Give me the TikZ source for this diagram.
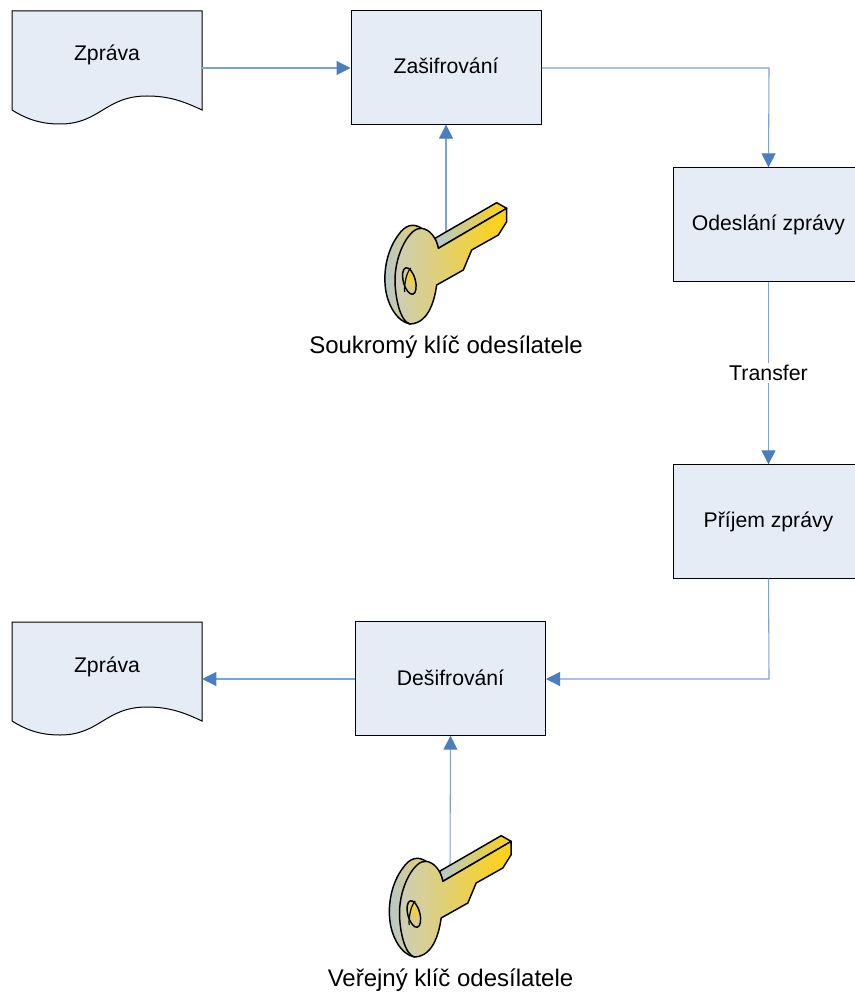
\documentclass[tikz,border=0pt]{standalone}
\usepackage{fontspec}
\setmainfont{Liberation Sans}
\usetikzlibrary{arrows.meta}
\definecolor{boxfill}{HTML}{E6ECF6}
\definecolor{lineblue}{HTML}{7FA2D6}
\definecolor{tipblue}{HTML}{4A7EBF}
\definecolor{keyL}{HTML}{CCCEB8}
\definecolor{keyR}{HTML}{FFD20F}
\definecolor{rimL}{HTML}{B4C8D0}
\definecolor{rimR}{HTML}{ECCF58}
\definecolor{holeT}{HTML}{D8CC88}
\definecolor{holeY}{HTML}{F6D030}
\tikzset{
  proc/.style={draw=black,line width=0.75pt,fill=boxfill,minimum width=142.5pt,minimum height=85pt,inner sep=0pt,font=\fontsize{15.9}{18}\selectfont},
  docbound/.style={minimum width=142.5pt,minimum height=85pt,inner sep=0pt},
  docline/.style={draw=black,line width=0.75pt,fill=boxfill},
  doctext/.style={font=\fontsize{15.9}{18}\selectfont,inner sep=0pt},
  conn/.style={draw=lineblue,line width=0.8pt,-{Triangle[length=10.5pt,width=10.5pt,color=tipblue]}},
  keylabel/.style={font=\fontsize{18}{21}\selectfont,inner sep=0pt},
  keyline/.style={draw=black,line width=1.1pt,line join=round},
  keyshape/.pic={
    \begin{scope}[x=0.25pt,y=-0.25pt]
      \shade[keyline,left color=rimL,right color=rimR]
        (155,115) .. controls (130,98) and (105,105) .. (85,135)
        .. controls (55,175) and (42,230) .. (45,280)
        .. controls (48,340) and (80,395) .. (120,402)
        -- (140,300) -- (155,115) -- cycle;
      \shade[keyline,left color=rimL,right color=keyR]
        (195,145) -- (380,38) -- (410,55) -- (205,175) -- cycle;
      \shade[keyline,left color=keyL,right color=keyR]
        (205,175) -- (410,55) -- (410,95) -- (385,135) -- (305,180)
        -- (280,240) -- (200,285)
        .. controls (195,320) and (180,400) .. (120,402)
        .. controls (90,395) and (75,320) .. (75,270)
        .. controls (75,190) and (120,110) .. (155,115)
        .. controls (180,118) and (200,145) .. (205,175) -- cycle;
      \draw[keyline,fill=holeT,rotate around={15:(118,273)}] (118,273) ellipse (18 and 41);
      \fill[holeY,rotate around={15:(120,262)}] (120,262) ellipse (7 and 24);
      \draw[keyline,line width=0.9pt] (122,234) .. controls (108,250) and (102,285) .. (104,306);
    \end{scope}
  }
}
\newcommand{\wavedoc}[3]{%
  \node[docbound] (#1) at (#2,#3) {};
  \begin{scope}[shift={(#2-107,#3-67.5)}]
    \path[docline] (12,11) -- (202,11) -- (202,110)
      .. controls (185,102) and (170,96) .. (147,96)
      .. controls (105,96) and (100,124) .. (60,124)
      .. controls (42,124) and (28,120) .. (12,110) -- cycle;
  \end{scope}
}
\begin{document}
\begin{tikzpicture}[x=0.75pt,y=-0.75pt]
\useasboundingbox (0,0) rectangle (854,994);
\fill[white] (0,0) rectangle (854,994);
% shapes
\node[proc] (enc) at (446,67.5) {\raisebox{2pt}{Zašifrování}};
\node[proc] (send) at (768.5,224.5) {Odeslání zprávy};
\node[proc] (recv) at (768.5,521.5) {Příjem zprávy};
\node[proc] (dec) at (450.5,678.5) {\raisebox{1pt}{Dešifrování}};
% connectors behind the documents and the keys
\coordinate (k1) at (446,235);
\coordinate (k2) at (450,868);
\coordinate (bend1) at (769,68);
\coordinate (bend2) at (769,679);
\wavedoc{doca}{107}{67.5}
\wavedoc{docb}{107}{678.5}
\node[doctext] (ta) at (107,55) {Zpráva};
\node[doctext] (tb) at (107,667) {Zpráva};
\draw[conn] (doca.east |- bend1) -- (enc.west |- bend1);
\draw[conn] (enc.east |- bend1) -- (bend1) -- (send.north);
\draw[conn] (send.south) -- node[fill=white,inner sep=2pt,font=\fontsize{16}{18}\selectfont] (tr) {Transfer} (recv.north);
\draw[conn] (recv.south) -- (bend2) -- (dec.east |- bend2);
\draw[conn] (k1) -- (enc.south);
\draw[conn] (k2) -- (dec.south);
\draw[conn] (dec.west |- bend2) -- (docb.east |- bend2);
\pic at (370,190) {keyshape};
\pic at (374.5,823) {keyshape};
\node[keylabel] (la) at (446,347) {Soukromý klíč odesílatele};
\node[keylabel] (lb) at (450.5,980) {Veřejný klíč odesílatele};
\end{tikzpicture}
\end{document}
